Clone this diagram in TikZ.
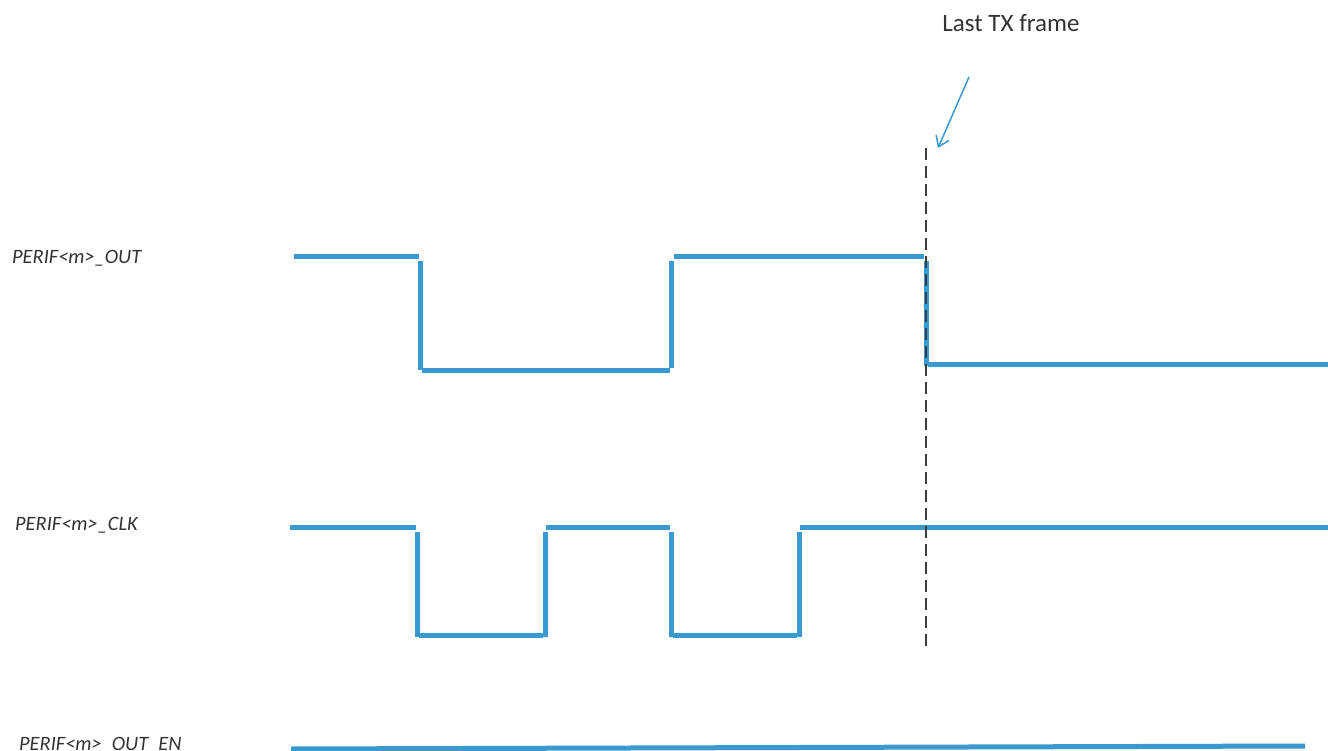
\documentclass[tikz,border=0pt]{standalone}
\usepackage{fontspec}
\setmainfont{Carlito}
\usetikzlibrary{arrows.meta}
\definecolor{waveblue}{RGB}{58,153,206}
\definecolor{markgray}{RGB}{60,60,60}
\begin{document}
\begin{tikzpicture}[x=1pt, y=-1pt]
    \tikzset{wave/.style={draw=waveblue, line width=5pt},
             sig label/.style={anchor=base west, inner sep=0pt, font=\fontsize{20.4}{24}\selectfont\itshape, text=black!80}}
    \useasboundingbox (0,0) rectangle (1328,751);
    \clip (0,0) rectangle (1328,751);

    % Signal names
    \node[sig label] (out_lbl) at (12, 264) {PERIF<m>\_OUT};
    \node[sig label] (clk_lbl) at (15, 530) {PERIF<m>\_CLK};
    \node[sig label] (en_lbl) at (19, 750.5) {PERIF<m>\_OUT\_EN};

    % PERIF<m>_OUT waveform
    \draw[wave] (294, 257) -- (419, 257);
    \draw[wave] (420, 261) -- (420, 370);
    \draw[wave] (422, 370) -- (670, 370);
    \draw[wave] (671, 261) -- (671, 368);
    \draw[wave] (674, 257) -- (924, 257);
    \draw[wave] (926, 261) -- (926, 366);
    \draw[wave] (928, 364) -- (1328, 364);

    % PERIF<m>_CLK waveform
    \draw[wave] (290, 527) -- (416, 527);
    \draw[wave] (417, 532) -- (417, 637);
    \draw[wave] (419, 635) -- (543, 635);
    \draw[wave] (545, 532) -- (545, 637);
    \draw[wave] (546, 527) -- (670, 527);
    \draw[wave] (671, 532) -- (671, 637);
    \draw[wave] (673, 635) -- (797, 635);
    \draw[wave] (799, 532) -- (799, 637);
    \draw[wave] (800, 527) -- (1328, 527);

    % PERIF<m>_OUT_EN waveform
    \draw[wave] (291, 749) -- (1305, 746);

    % Last TX frame marker
    \draw[markgray, line width=1.6pt, dash pattern=on 12pt off 6pt] (926, 148) -- (926, 646);
    \node[font=\fontsize{25}{30}\selectfont, text=black!80] (frame_lbl) at (1011, 23) {Last TX frame};
    \coordinate (arr_start) at (969, 77);
    \coordinate (arr_end) at (938, 148);
    \draw[waveblue, line width=1.5pt, -{Straight Barb[length=10pt, width=14pt]}] (arr_start) -- (arr_end);

\end{tikzpicture}
\end{document}
